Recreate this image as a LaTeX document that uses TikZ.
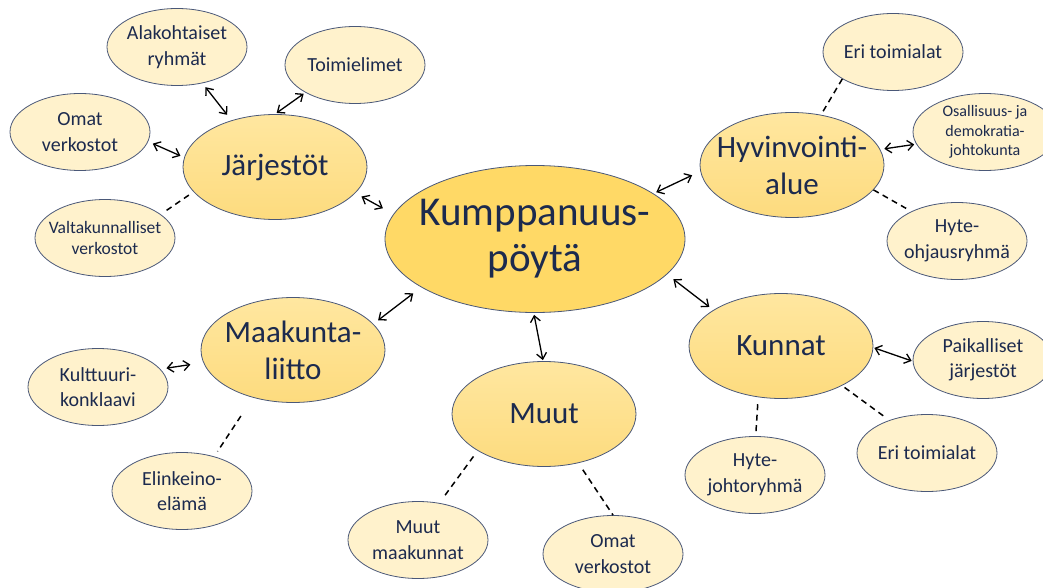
\documentclass[tikz,border=0pt]{standalone}
\usepackage{fontspec}
\setmainfont{Carlito}
\usetikzlibrary{arrows.meta,shapes.geometric}

\definecolor{ink}{HTML}{1C2A4E}
\definecolor{edgec}{HTML}{4A5878}
\definecolor{hubfill}{HTML}{FFD966}
\definecolor{midtop}{HTML}{FFE7A0}
\definecolor{midbot}{HTML}{FDDB7E}
\definecolor{leaffill}{HTML}{FFF2CC}

\tikzset{
  hubtext/.style={text=ink, align=center, inner sep=0pt, font=\fontsize{41}{46}\selectfont},
  midtext/.style={text=ink, align=center, inner sep=0pt, font=\fontsize{31}{37}\selectfont},
  leaftext/.style={text=ink, align=center, inner sep=0pt, font=\fontsize{20}{25.5}\selectfont},
  hubnode/.style={ellipse, draw=edgec, line width=0.8pt, fill=hubfill,
    minimum width=300pt, minimum height=147pt, inner sep=0pt,
    label={[hubtext]center:#1}},
  midnode/.style={ellipse, draw=edgec, line width=0.8pt, top color=midtop, bottom color=midbot,
    minimum width=184pt, minimum height=105pt, inner sep=0pt,
    label={[midtext]center:#1}},
  leafbase/.style={ellipse, draw=edgec, line width=0.8pt, fill=leaffill,
    minimum width=140pt, minimum height=77pt, inner sep=0pt},
  leafnode/.style={leafbase, label={[leaftext]center:#1}},
  leafsmall/.style n args={3}{leafbase,
    label={[leaftext, font=\fontsize{#1}{#2}\selectfont]center:#3}},
  tielink/.style={draw=black, line width=1.3pt,
    {Straight Barb[length=6pt,width=10pt]}-{Straight Barb[length=6pt,width=10pt]}},
  dashlink/.style={draw=black, line width=1.5pt, dash pattern=on 6pt off 4.5pt},
}

\begin{document}
\begin{tikzpicture}[x=1pt,y=-1pt]
  \useasboundingbox (0,0) rectangle (1043,588);
  \fill[white] (0,0) rectangle (1043,588);

  % hub and main groups
  \node[hubnode={Kumppanuus-\\pöytä}] (kp) at (535,239) {};
  \node[midnode={Järjestöt}] (jar) at (275,167) {};
  \node[midnode={Hyvinvointi-\\alue}] (hyv) at (792,165) {};
  \node[midnode={Kunnat}] (kun) at (781,346) {};
  \node[midnode={Muut}] (muu) at (544,414) {};
  \node[midnode={Maakunta-\\liitto}] (mkl) at (293,350) {};

  % Järjestöt
  \node[leafnode={Alakohtaiset\\ryhmät}] (ala) at (177,47) {};
  \node[leafnode={Toimielimet}] (toi) at (355,65) {};
  \node[leafnode={Omat\\verkostot}] (om1) at (80,132) {};
  \node[leafsmall={17.5}{21.5}{Valtakunnalliset\\verkostot}] (val) at (105,238) {};

  % Hyvinvointialue
  \node[leafnode={Eri toimialat}] (eri1) at (893,52) {};
  \node[leafsmall={16}{19.5}{Osallisuus- ja\\demokratia-\\johtokunta}, minimum width=144pt] (osa) at (985,132) {};
  \node[leafnode={Hyte-\\ohjausryhmä}] (hyo) at (957,241) {};

  % Kunnat
  \node[leafnode={Paikalliset\\järjestöt}] (pai) at (983,360) {};
  \node[leafnode={Eri toimialat}] (eri2) at (927,453) {};
  \node[leafnode={Hyte-\\johtoryhmä}] (hjo) at (755,475) {};

  % Muut
  \node[leafnode={Muut\\maakunnat}] (mma) at (418,540) {};
  \node[leafnode={Omat\\verkostot}] (om2) at (613,554) {};

  % Maakuntaliitto
  \node[leafnode={Kulttuuri-\\konklaavi}] (kul) at (98,387) {};
  \node[leafnode={Elinkeino-\\elämä}] (eli) at (182,491) {};

  % two-way links
  \draw[tielink, shorten <=5pt, shorten >=7pt] (ala.-55) -- (jar.133);
  \draw[tielink, shorten <=2pt, shorten >=2pt] (toi.209) -- (jar.90);
  \draw[tielink, shorten <=5pt, shorten >=4pt] (om1.-8) -- (jar.174);
  \draw[tielink, shorten <=7pt, shorten >=12pt] (jar.-18) -- (kp.170);
  \draw[tielink, shorten <=3pt, shorten >=9pt] (kp.21) -- (hyv.184);
  \draw[tielink, shorten <=4pt, shorten >=2pt] (hyv.10) -- (osa.190);
  \draw[tielink, shorten <=8pt, shorten >=5pt] (kp.-15) -- (kun.152);
  \draw[tielink, shorten <=1pt, shorten >=1pt] (kun.-1) -- (pai.181);
  \draw[tielink, shorten <=2pt, shorten >=1pt] (kp.-91) -- (muu.91);
  \draw[tielink, shorten <=6pt, shorten >=10pt] (mkl.18) -- (kp.203);
  \draw[tielink, shorten <=6pt, shorten >=13pt] (kul.16) -- (mkl.188);

  % loose ties
  \draw[dashlink, shorten <=7pt, shorten >=4pt] (val.23) -- (jar.197);
  \draw[dashlink, shorten <=0pt, shorten >=3pt] (eri1.208) -- (hyv.60);
  \draw[dashlink, shorten <=0pt, shorten >=2pt] (hyv.-17) -- (hyo.147);
  \draw[dashlink, shorten <=3pt, shorten >=5pt] (kun.-33) -- (eri2.139);
  \draw[dashlink, shorten <=7pt, shorten >=4pt] (kun.-114) -- (hjo.89);
  \draw[dashlink, shorten <=7pt, shorten >=9pt] (muu.209) -- (mma.60);
  \draw[dashlink, shorten <=8pt, shorten >=0pt] (muu.-55) -- (om2.90);
  \draw[dashlink, shorten <=22pt, shorten >=6pt] (mkl.-130) -- (eli.47);
\end{tikzpicture}
\end{document}
